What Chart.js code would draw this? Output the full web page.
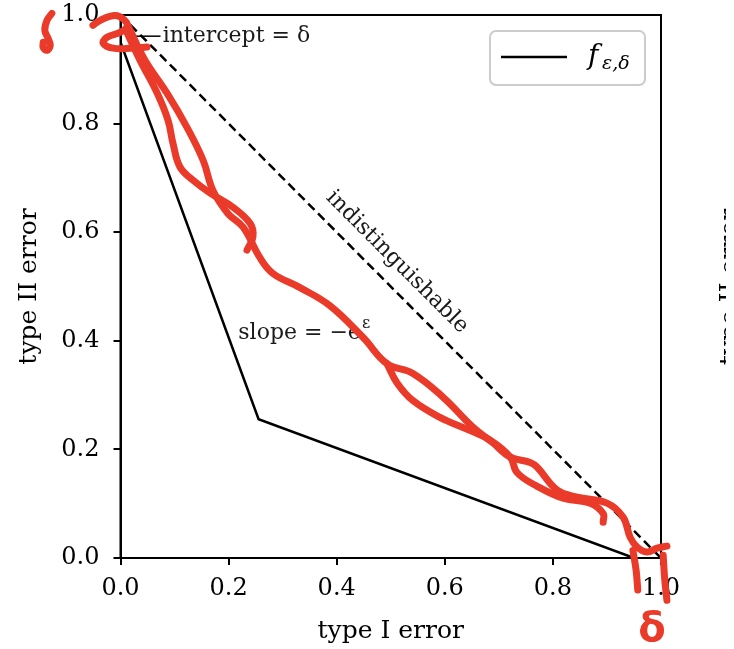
<!DOCTYPE html>
<html>
<head>
<meta charset="utf-8">
<script src="https://cdn.jsdelivr.net/npm/chart.js@4.4.1/dist/chart.umd.min.js"></script>
<style>
  html, body { margin: 0; padding: 0; background: #fff; }
  #wrap { width: 734px; height: 649px; }
</style>
</head>
<body>
<div id="wrap"><canvas id="chart" width="734" height="649"></canvas></div>
<script>
// tradeoff function f_{eps,delta} (eps = 1, delta = 0.05), corners
const fX = [0, 0.2555, 0.95];
const fY = [0.95, 0.2555, 0];
// the "indistinguishable" diagonal
const diagX = [0, 1];
const diagY = [1, 0];
const tickValues = [0, 0.2, 0.4, 0.6, 0.8, 1.0];

// red hand-drawn marks on top of the figure
const redAX = [0.010, 0.036, 0.068, 0.088, 0.097, 0.110, 0.134, 0.166, 0.208, 0.240, 0.245, 0.234];
const redAY = [0.972, 0.917, 0.856, 0.806, 0.764, 0.720, 0.696, 0.672, 0.646, 0.616, 0.591, 0.567];
const redBX = [0.014, 0.045, 0.086, 0.123, 0.153, 0.171, 0.199, 0.227, 0.258, 0.282, 0.332, 0.387, 0.449, 0.493,
  0.541, 0.597, 0.652, 0.689, 0.721, 0.758, 0.771, 0.808, 0.845, 0.900, 0.930, 0.943, 0.956, 0.974, 0.993, 1.011];
const redBY = [0.980, 0.917, 0.856, 0.793, 0.732, 0.677, 0.634, 0.609, 0.553, 0.524, 0.498, 0.465, 0.406, 0.358,
  0.340, 0.296, 0.241, 0.212, 0.186, 0.176, 0.167, 0.125, 0.112, 0.101, 0.075, 0.038, 0.020, 0.011, 0.018, 0.022];
const redCX = [0.493, 0.512, 0.541, 0.591, 0.646, 0.684, 0.721, 0.734, 0.771, 0.819, 0.869, 0.893, 0.893];
const redCY = [0.358, 0.322, 0.290, 0.259, 0.235, 0.217, 0.186, 0.157, 0.132, 0.110, 0.101, 0.082, 0.066];
const redHookX = [-0.051, -0.038, -0.010, 0.008, 0.012, -0.001, -0.025, -0.032, -0.014, 0.023, 0.049];
const redHookY = [0.981, 0.990, 0.999, 0.990, 0.978, 0.968, 0.959, 0.948, 0.939, 0.939, 0.941];
const redSX = [-0.127, -0.136, -0.140, -0.134, -0.130, -0.136, -0.143, -0.143];
const redSY = [1.003, 0.990, 0.972, 0.957, 0.944, 0.935, 0.940, 0.950];
const redBar1X = [0.948, 0.954, 0.957];
const redBar1Y = [0.014, -0.023, -0.059];
const redBar2X = [1.011, 1.007, 1.004];
const redBar2Y = [-0.078, -0.041, 0.005];

const SERIF = 'DejaVu Serif';
const RED = '#ea3a29';

const pts = (xs, ys) => xs.map((x, i) => ({ x: x, y: ys[i] }));

function redStroke(xs, ys) {
  return {
    data: pts(xs, ys),
    showLine: true,
    borderColor: RED,
    borderWidth: 7,
    borderCapStyle: 'round',
    borderJoinStyle: 'round',
    tension: 0.4,
    pointRadius: 0,
    clip: false
  };
}

// frame + text annotations, under the datasets
const annotations = {
  id: 'annotations',
  beforeDatasetsDraw(chart) {
    const { ctx, chartArea: a, scales: { x, y } } = chart;
    ctx.save();
    ctx.strokeStyle = '#000';
    ctx.lineWidth = 2;
    ctx.strokeRect(a.left, a.top, a.right - a.left, a.bottom - a.top);

    ctx.fillStyle = '#1a1a1a';
    ctx.textBaseline = 'middle';
    ctx.font = '22px "' + SERIF + '"';

    // intercept label with its leader
    ctx.lineWidth = 1.5;
    ctx.beginPath();
    ctx.moveTo(x.getPixelForValue(0.018), y.getPixelForValue(0.961));
    ctx.lineTo(x.getPixelForValue(0.074), y.getPixelForValue(0.961));
    ctx.stroke();
    ctx.fillText('intercept = δ', x.getPixelForValue(0.078), y.getPixelForValue(0.961));

    // slope label
    const sx = x.getPixelForValue(0.218), sy = y.getPixelForValue(0.414);
    ctx.fillText('slope = −e', sx, sy);
    const w = ctx.measureText('slope = −e').width;
    ctx.font = '16px "' + SERIF + '"';
    ctx.fillText('ε', sx + w + 1, sy - 9);

    // diagonal label
    ctx.font = '22px "' + SERIF + '"';
    ctx.translate(x.getPixelForValue(0.5116), y.getPixelForValue(0.545));
    ctx.rotate(Math.PI / 4);
    ctx.textAlign = 'center';
    ctx.fillText('indistinguishable', 0, 0);
    ctx.restore();
  },
  afterDraw(chart) {
    const { ctx } = chart;
    const ds = chart.data.datasets[chart.data.datasets.length - 2];
    ctx.save();
    // legend box
    ctx.fillStyle = 'rgba(255,255,255,0.8)';
    ctx.strokeStyle = '#cccccc';
    ctx.lineWidth = 2;
    ctx.beginPath();
    ctx.roundRect(490, 31, 155, 54, 6);
    ctx.fill();
    ctx.stroke();
    ctx.strokeStyle = ds.borderColor;
    ctx.lineWidth = ds.borderWidth;
    ctx.beginPath();
    ctx.moveTo(501, 57);
    ctx.lineTo(567, 57);
    ctx.stroke();
    ctx.fillStyle = '#000';
    ctx.textBaseline = 'alphabetic';
    ctx.font = 'italic 28px "' + SERIF + '"';
    ctx.fillText('f', 588, 64);
    ctx.font = 'italic 19px "' + SERIF + '"';
    ctx.fillText('ε,δ', 602, 69);

    // red delta under the x axis
    ctx.fillStyle = RED;
    ctx.textAlign = 'center';
    ctx.textBaseline = 'middle';
    ctx.font = 'bold 40px "DejaVu Sans"';
    ctx.fillText('δ', 652, 631);

    // edge of the neighbouring panel's y label, cut by the picture border
    ctx.beginPath();
    ctx.rect(0, 0, 726, 649);
    ctx.clip();
    ctx.fillStyle = '#000';
    ctx.font = '25px "' + SERIF + '"';
    ctx.translate(730, 287);
    ctx.rotate(-Math.PI / 2);
    ctx.fillText('type II error', 0, 0);
    ctx.restore();
  }
};

const tickFont = { family: SERIF, size: 24 };
const titleFont = { family: SERIF, size: 25 };

new Chart(document.getElementById('chart'), {
  type: 'scatter',
  data: {
    datasets: [
      redStroke(redAX, redAY),
      redStroke(redBX, redBY),
      redStroke(redCX, redCY),
      redStroke(redHookX, redHookY),
      redStroke(redSX, redSY),
      redStroke(redBar1X, redBar1Y),
      redStroke(redBar2X, redBar2Y),
      {
        label: 'f',
        data: pts(fX, fY),
        showLine: true,
        borderColor: '#000',
        borderWidth: 2.5,
        pointRadius: 0
      },
      {
        label: 'indistinguishable',
        data: pts(diagX, diagY),
        showLine: true,
        borderColor: '#000',
        borderWidth: 2.5,
        borderDash: [9, 5],
        pointRadius: 0
      }
    ]
  },
  options: {
    responsive: false,
    animation: false,
    layout: { padding: { top: 15, right: 73, left: 0, bottom: 0 } },
    plugins: { legend: { display: false }, tooltip: { enabled: false } },
    scales: {
      x: {
        type: 'linear', min: 0, max: 1,
        afterBuildTicks: s => { s.ticks = tickValues.map(v => ({ value: v })); },
        afterFit: s => { s.height = 91; s.paddingRight = 0; s.paddingLeft = 0; },
        grid: { display: true, drawOnChartArea: false, drawTicks: true, tickLength: 7, color: '#000', lineWidth: 2 },
        border: { display: true, color: '#000', width: 2 },
        ticks: { color: '#000', font: tickFont, padding: 9, maxRotation: 0, autoSkip: false,
          callback: v => Number(v).toFixed(1) },
        title: { display: true, text: 'type I error', color: '#000', font: titleFont, padding: { top: 0, bottom: 3 } }
      },
      y: {
        type: 'linear', min: 0, max: 1,
        afterBuildTicks: s => { s.ticks = tickValues.map(v => ({ value: v })); },
        afterFit: s => { s.width = 120.5; s.paddingTop = 0; s.paddingBottom = 0; },
        grid: { display: true, drawOnChartArea: false, drawTicks: true, tickLength: 7, color: '#000', lineWidth: 2 },
        border: { display: true, color: '#000', width: 2 },
        ticks: { color: '#000', font: tickFont, padding: 14, autoSkip: false,
          callback: v => Number(v).toFixed(1) },
        title: { display: true, text: 'type II error', color: '#000', font: titleFont, padding: { top: 14, bottom: 0 } }
      }
    }
  },
  plugins: [annotations]
});
</script>
</body>
</html>
